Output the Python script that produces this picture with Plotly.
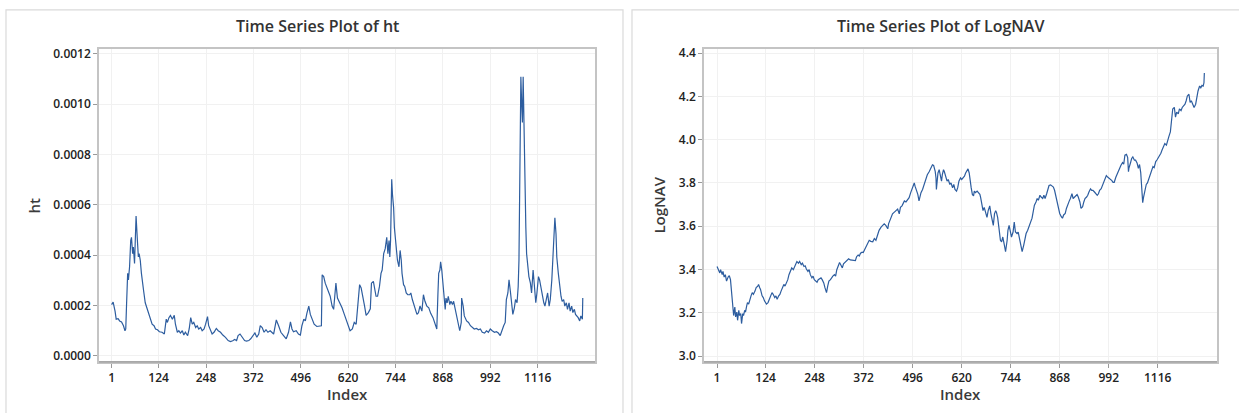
import plotly.graph_objects as go

# ---------------- data ----------------
x_ticks = [1, 124, 248, 372, 496, 620, 744, 868, 992, 1116]

ht_index = [1,5,10,13,18,22,27,32,36,38,40,43,45,48,51,53,56,58,61,63,65,68,71,73,76,79,82,85,89,92,96,100,104,107,112,116,121,126,133,139,144,147,151,155,160,165,168,173,177,181,186,190,194,200,204,208,212,216,221,225,229,234,238,243,247,252,255,260,264,269,275,280,286,292,299,306,312,318,323,328,332,337,342,349,354,360,365,370,376,381,386,390,395,400,405,410,416,
            425,432,438,444,451,458,464,469,473,477,484,490,495,499,504,508,512,517,521,525,531,538,545,550,552,556,560,565,569,573,578,582,585,588,592,598,604,610,615,620,625,631,636,641,646,650,654,659,663,667,673,678,681,686,690,693,697,702,706,709,713,717,721,724,727,729,731,734,736,739,741,744,747,749,753,756,759,761,765,768,772,776,781,784,788,791,795,800,804,808,813,817,821,
            826,831,836,842,848,852,855,857,860,862,865,868,870,874,876,879,882,886,889,893,896,900,904,909,912,916,917,921,924,930,935,940,945,950,956,961,966,971,977,982,987,992,997,1003,1008,1013,1018,1024,1027,1031,1034,1038,1041,1045,1048,1051,1055,1058,1062,1065,1067,1069,1071,1072,1074,1076,1078,1079,1081,1083,1085,1087,1090,1093,1097,1100,1104,1107,1111,1114,1118,1121,1125,1128,1132,1135,1139,1142,1146,1149,1153,1156,1159,1161,1164,1166,1170,1173,1177,1180,1184,1187,1191,1194,1198,1201,1205,1208,1212,1215,1219,1222,1226,1229,1233,1234]

# ht values in units of 1e-4
ht_e4 = [2.04,2.14,1.78,1.46,1.48,1.39,1.35,1.20,1.00,1.07,1.98,3.28,3.02,3.54,4.58,4.71,4.06,4.32,3.67,5.10,5.56,4.71,3.93,4.06,3.80,3.28,2.76,2.56,2.11,1.98,1.72,1.59,1.46,1.26,1.20,1.07,1.04,0.96,0.94,0.87,1.46,1.33,1.52,1.61,1.46,1.61,1.26,0.94,1.00,0.91,1.00,0.83,0.94,0.81,1.07,1.52,1.26,1.33,1.13,1.20,1.07,1.13,1.00,1.07,1.26,1.56,1.20,1.00,0.87,0.94,1.09,1.00,0.94,0.83,0.74,0.61,0.57,0.60,0.65,0.61,0.81,0.87,0.74,0.61,0.59,0.61,0.68,0.81,0.91,0.74,0.87,1.20,1.13,0.94,1.04,0.94,1.00,
         0.87,1.43,1.20,0.94,0.81,0.68,0.94,1.35,1.07,0.96,1.00,0.87,0.83,1.20,1.46,1.39,1.69,1.98,1.65,1.46,1.26,1.17,1.20,1.20,3.22,3.15,2.89,2.70,2.50,2.37,1.98,1.85,2.37,2.89,2.30,2.11,1.91,1.65,1.46,1.26,1.00,1.07,1.33,1.26,1.98,2.83,2.70,2.37,1.98,1.61,1.72,1.87,2.89,2.96,2.63,2.37,2.37,2.76,3.28,3.41,4.06,4.26,4.71,4.06,4.58,3.93,4.58,7.02,6.41,5.89,5.10,4.58,3.93,3.80,3.54,4.19,3.80,3.28,2.83,2.76,2.50,2.43,2.43,2.50,2.24,2.11,1.85,1.65,1.72,1.98,1.78,2.43,2.17,
         1.98,1.91,1.69,1.52,1.20,1.07,2.50,3.28,3.41,3.74,3.41,2.89,2.37,1.85,2.30,2.11,2.37,2.04,2.17,2.04,2.17,1.85,1.52,1.20,1.00,1.33,2.30,1.98,1.59,1.39,1.33,1.20,1.13,1.07,1.09,1.04,1.07,0.94,0.91,1.00,0.94,1.07,1.00,0.94,0.96,0.91,0.81,1.13,1.20,1.33,2.24,2.50,3.02,2.50,2.04,1.65,1.91,2.24,2.11,2.76,3.80,5.89,8.49,11.09,10.05,9.27,11.09,10.05,8.49,6.54,5.10,4.06,3.54,3.15,2.89,2.50,3.41,2.76,2.11,2.50,3.15,3.02,2.63,2.37,2.11,1.98,2.37,2.50,1.98,2.24,3.02,4.06,4.58,5.49,4.84,3.93,3.28,2.76,2.37,2.17,2.24,1.98,2.11,1.85,2.11,1.78,1.98,1.72,1.85,1.65,1.59,1.52,1.39,1.59,1.46,2.30]

nav_index = [1,5,8,10,14,16,19,22,25,29,32,35,38,41,43,46,48,51,53,56,58,61,63,66,68,71,73,76,78,81,83,87,90,93,97,100,104,106,109,111,115,118,121,126,130,133,137,140,143,147,150,153,157,160,163,167,170,173,177,180,183,187,190,194,197,200,203,207,210,214,217,221,224,227,231,234,237,241,244,247,251,254,257,261,264,267,271,274,278,281,284,288,291,294,298,301,304,308,311,314,318,321,324,328,331,334,338,341,344,348,351,354,358,361,364,368,371,374,
             378,382,386,390,395,399,403,407,411,416,420,424,428,433,435,438,442,445,449,454,458,462,465,469,472,475,479,483,487,491,496,500,502,506,509,512,515,517,521,525,529,533,538,542,546,549,553,555,556,558,560,563,566,569,571,574,576,580,583,586,590,593,597,600,603,607,610,613,617,620,624,627,630,634,636,639,641,644,647,650,652,655,659,662,666,668,671,674,677,681,684,687,691,694,698,700,703,706,708,711,714,718,721,724,728,731,735,737,740,743,746,750,753,756,760,763,767,770,773,777,780,783,787,790,
             794,798,801,804,808,811,814,818,821,825,828,831,835,838,841,845,848,852,855,858,862,865,868,872,875,878,882,885,889,892,895,899,902,905,909,912,915,919,922,926,929,932,936,939,942,946,949,952,956,959,963,966,969,973,976,979,983,986,990,993,996,1000,1003,1006,1010,1013,1016,1020,1023,1027,1030,1033,1037,1040,1042,1043,1047,1050,1053,1057,1060,1064,1067,1070,1073,1075,1078,1080,1084,1087,1090,1094,1097,1101,1104,1107,1111,1114,1117,1121,1124,1127,1131,1134,1138,1141,1144,1148,1151,1154,1158,1161,1164,1168,1171,1175,1178,1181,1185,1188,1191,1195,1198,1201,1205,1208,1212,1215,1218,1222,1225,1228,1231,1233,1234]

nav_vals = [3.414,3.399,3.384,3.399,3.376,3.391,3.365,3.376,3.346,3.365,3.371,3.353,3.293,3.232,3.187,3.226,3.181,3.203,3.165,3.211,3.187,3.196,3.150,3.196,3.187,3.211,3.203,3.232,3.247,3.240,3.255,3.278,3.293,3.285,3.300,3.316,3.323,3.331,3.316,3.308,3.278,3.270,3.255,3.240,3.247,3.262,3.278,3.293,3.285,3.270,3.278,3.262,3.278,3.285,3.300,3.323,3.331,3.323,3.338,3.353,3.376,3.399,3.407,3.399,3.414,3.429,3.437,3.429,3.437,3.422,3.429,3.414,3.417,3.402,3.391,3.399,3.376,3.361,3.369,3.353,3.346,3.341,3.353,3.356,3.361,3.353,3.338,3.316,3.293,3.323,3.346,3.353,3.365,3.369,3.376,3.369,3.399,3.414,3.432,3.422,3.407,3.426,3.432,3.437,3.444,3.449,3.444,3.444,3.441,3.444,3.441,3.459,3.467,3.462,3.475,3.480,3.478,3.490,
            3.505,3.520,3.535,3.530,3.528,3.543,3.535,3.558,3.581,3.596,3.604,3.611,3.604,3.588,3.611,3.626,3.649,3.657,3.664,3.672,3.679,3.657,3.687,3.694,3.709,3.717,3.712,3.720,3.732,3.755,3.778,3.800,3.785,3.762,3.747,3.717,3.747,3.755,3.770,3.793,3.816,3.838,3.853,3.871,3.884,3.881,3.853,3.823,3.770,3.808,3.846,3.861,3.823,3.808,3.838,3.861,3.853,3.823,3.808,3.816,3.793,3.800,3.778,3.793,3.770,3.762,3.778,3.808,3.823,3.816,3.823,3.831,3.846,3.861,3.865,3.846,3.808,3.778,3.747,3.740,3.762,3.755,3.762,3.755,3.747,3.732,3.702,3.672,3.687,3.657,3.641,3.672,3.694,3.657,3.619,3.604,3.657,3.672,3.664,3.641,3.596,3.535,3.528,3.550,3.513,3.482,3.535,3.581,3.604,3.566,3.550,3.573,3.619,3.573,3.566,3.573,3.535,3.505,3.482,3.513,3.550,3.566,3.581,3.596,3.611,
            3.637,3.667,3.697,3.712,3.728,3.720,3.743,3.735,3.728,3.743,3.728,3.750,3.766,3.788,3.791,3.785,3.781,3.766,3.743,3.712,3.682,3.659,3.644,3.637,3.652,3.659,3.682,3.705,3.716,3.728,3.750,3.728,3.735,3.743,3.746,3.735,3.712,3.682,3.690,3.712,3.728,3.735,3.743,3.758,3.773,3.766,3.766,3.758,3.750,3.743,3.750,3.766,3.773,3.788,3.803,3.818,3.834,3.826,3.822,3.818,3.811,3.803,3.803,3.826,3.841,3.856,3.871,3.882,3.894,3.887,3.928,3.932,3.917,3.852,3.867,3.892,3.913,3.920,3.905,3.905,3.891,3.867,3.885,3.848,3.780,3.709,3.732,3.778,3.793,3.800,3.823,3.838,3.861,3.876,3.871,3.899,3.906,3.914,3.929,3.937,3.952,3.967,3.982,3.975,3.998,4.013,4.036,4.081,4.142,4.149,4.104,4.127,4.119,4.142,4.134,4.149,4.157,4.164,4.180,4.202,4.210,4.172,4.180,4.157,4.149,4.164,4.202,4.225,4.248,4.240,4.251,4.248,4.263,4.308,4.316]

# ---------------- figure ----------------
W, H = 1239, 413
LINE = "#2d5d9f"
FONT = "Open Sans, Noto Sans, sans-serif"

def fx(px):
    return px / W

def fy(py):
    return 1 - py / H

fig = go.Figure()
fig.add_trace(go.Scatter(x=ht_index, y=[v * 1e-4 for v in ht_e4], mode="lines",
                         line=dict(color=LINE, width=1.2), xaxis="x", yaxis="y",
                         showlegend=False))
fig.add_trace(go.Scatter(x=nav_index, y=nav_vals, mode="lines",
                         line=dict(color=LINE, width=1.2), xaxis="x2", yaxis="y2",
                         showlegend=False))

tickfont = dict(family=FONT, size=12, color="#222222", weight=600)
common_x = dict(range=[-32, 1266], tickmode="array", tickvals=x_ticks,
                ticktext=[str(t) for t in x_ticks], showgrid=True,
                gridcolor="#f1f1f1", gridwidth=1, zeroline=False,
                showline=True, linecolor="#c4c4c4", linewidth=1.5, mirror=True,
                ticks="outside", ticklen=4, tickcolor="#9a9a9a", tickfont=tickfont)
common_y = dict(showgrid=True, gridcolor="#f1f1f1", gridwidth=1, zeroline=False,
                showline=True, linecolor="#c4c4c4", linewidth=1.5, mirror=True,
                ticks="outside", ticklen=4, tickcolor="#9a9a9a", tickfont=tickfont)

fig.update_layout(
    width=W, height=H, margin=dict(l=0, r=0, t=0, b=0),
    paper_bgcolor="white", plot_bgcolor="white",
    xaxis=dict(domain=[fx(99), fx(595)], anchor="y", **common_x),
    yaxis=dict(domain=[fy(363), fy(45)], anchor="x", range=[-0.0000235, 0.001218],
               tickmode="array", tickvals=[0, 0.0002, 0.0004, 0.0006, 0.0008, 0.0010, 0.0012],
               ticktext=["0.0000", "0.0002", "0.0004", "0.0006", "0.0008", "0.0010", "0.0012"],
               **common_y),
    xaxis2=dict(domain=[fx(704), fx(1217)], anchor="y2", **common_x),
    yaxis2=dict(domain=[fy(363), fy(45)], anchor="x2", range=[2.973, 4.418],
                tickmode="array", tickvals=[3.0, 3.2, 3.4, 3.6, 3.8, 4.0, 4.2, 4.4],
                ticktext=["3.0", "3.2", "3.4", "3.6", "3.8", "4.0", "4.2", "4.4"],
                **common_y),
)

# darker bottom axis lines
for x0, x1 in [(99, 595), (704, 1217)]:
    fig.add_shape(type="line", xref="paper", yref="paper",
                  x0=fx(x0), x1=fx(x1), y0=fy(363), y1=fy(363),
                  line=dict(color="#a8a8a8", width=1.8))

# panel frames
for x0, x1 in [(6, 623), (632, 1250)]:
    fig.add_shape(type="rect", xref="paper", yref="paper",
                  x0=fx(x0), x1=fx(x1), y0=fy(430), y1=fy(5),
                  line=dict(color="#dadada", width=1.2), fillcolor="rgba(0,0,0,0)",
                  layer="below")

title_font = dict(family=FONT, size=16, color="#333333", weight=600)
label_font = dict(family=FONT, size=15, color="#3a3a3a", weight=600)
annos = [
    dict(text="Time Series Plot of ht", x=fx(317), y=fy(21), font=title_font),
    dict(text="Time Series Plot of LogNAV", x=fx(940), y=fy(21), font=title_font),
    dict(text="Index", x=fx(347), y=fy(396), font=label_font),
    dict(text="Index", x=fx(960), y=fy(396), font=label_font),
    dict(text="ht", x=fx(34), y=fy(204), font=label_font, textangle=-90),
    dict(text="LogNAV", x=fx(659), y=fy(204), font=label_font, textangle=-90),
]
for a in annos:
    fig.add_annotation(xref="paper", yref="paper", showarrow=False,
                       xanchor="center", yanchor="middle", **a)

fig.write_html("out.html", config={"displayModeBar": False},
               post_script="document.body.style.margin='0';document.body.style.overflow='hidden';")
